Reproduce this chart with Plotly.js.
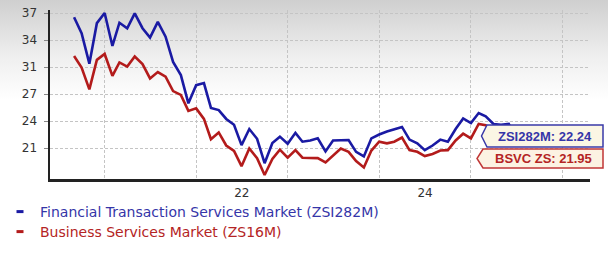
<!DOCTYPE html>
<html>
<head>
<meta charset="utf-8">
<script src="https://cdn.plot.ly/plotly-3.0.1.min.js"></script>
<style>
  html, body { margin: 0; padding: 0; }
  body { width: 608px; height: 253px; overflow: hidden;
         background: linear-gradient(to bottom, #cfcfcf 0px, #eeeeee 55px, #ffffff 100px); }
  #chart { width: 608px; height: 253px; }
</style>
</head>
<body>
<div id="chart"></div>
<script>
// ---- data ----
var months = [
  '2020-09-01','2020-10-01','2020-11-01','2020-12-01',
  '2021-01-01','2021-02-01','2021-03-01','2021-04-01','2021-05-01','2021-06-01',
  '2021-07-01','2021-08-01','2021-09-01','2021-10-01','2021-11-01','2021-12-01',
  '2022-01-01','2022-02-01','2022-03-01','2022-04-01','2022-05-01','2022-06-01',
  '2022-07-01','2022-08-01','2022-09-01','2022-10-01','2022-11-01','2022-12-01',
  '2023-01-01','2023-02-01','2023-03-01','2023-04-01','2023-05-01','2023-06-01',
  '2023-07-01','2023-08-01','2023-09-01','2023-10-01','2023-11-01','2023-12-01',
  '2024-01-01','2024-02-01','2024-03-01','2024-04-01','2024-05-01','2024-06-01',
  '2024-07-01','2024-08-01','2024-09-01','2024-10-01','2024-11-01','2024-12-01',
  '2025-01-01','2025-02-01','2025-03-01','2025-04-01','2025-05-01','2025-06-01',
  '2025-07-01'
];
var zsi282m = [
  36.5, 34.6, 31.0, 35.8,
  37.0, 33.1, 35.85, 35.2, 36.95, 35.2, 34.1, 35.95, 34.2, 31.2, 29.65, 26.3,
  28.45, 28.7, 25.75, 25.5, 24.45, 23.75, 21.35, 23.25, 22.1, 19.2, 21.6, 22.35,
  21.5, 22.8, 21.75, 21.9, 22.15, 20.6, 21.9, 21.95, 21.95, 20.55, 20.0, 22.15,
  22.6, 22.95, 23.2, 23.5, 22.0, 21.55, 20.75, 21.3, 22.0, 21.75, 23.25, 24.5,
  23.95, 25.15, 24.75, 23.85, 23.75, 23.85, 22.24
];
var zs16m = [
  31.9, 30.55, 27.95, 31.45,
  32.15, 29.55, 31.15, 30.65, 31.85, 30.95, 29.25, 30.0, 29.45, 27.75, 27.3, 25.4,
  25.7, 24.45, 22.05, 22.85, 21.3, 20.65, 18.85, 20.95, 19.8, 17.8, 19.7, 20.8,
  19.85, 20.75, 19.85, 19.8, 19.8, 19.3, 20.15, 20.95, 20.55, 19.45, 18.7, 20.7,
  21.75, 21.55, 21.75, 22.25, 20.75, 20.55, 20.05, 20.3, 20.7, 20.75, 21.9, 22.7,
  22.15, 23.85, 23.7, 23.1, 22.5, 22.3, 21.95
];
var seriesNames = ['Financial Transaction Services Market (ZSI282M)', 'Business Services Market (ZS16M)'];
var tagNames = ['ZSI282M', 'BSVC ZS'];
var yTickVals = [21, 24.2, 27.4, 30.6, 33.8, 37];
var yTickText = ['21', '24', '27', '31', '34', '37'];
var xTickVals = ['2022-07-02', '2024-07-02'];
var xTickText = ['22', '24'];

// ---- style ----
var BLUE = '#1a1aa3', RED = '#b31b1b';
var BLUE_T = '#3535a8', RED_T = '#b42424';
var W = 608, H = 253, M = {l: 50, r: 18, t: 10, b: 74, autoexpand: false};
function px(xp) { return (xp - M.l) / (W - M.l - M.r); }
function py(yp) { return (H - M.b - yp) / (H - M.t - M.b); }

var lastB = zsi282m[zsi282m.length - 1];
var lastR = zs16m[zs16m.length - 1];

var traces = [
  {x: months, y: zsi282m, type: 'scatter', mode: 'lines', showlegend: false,
   line: {color: BLUE, width: 2.6}, hoverinfo: 'skip'},
  {x: months, y: zs16m, type: 'scatter', mode: 'lines', showlegend: false,
   line: {color: RED, width: 2.6}, hoverinfo: 'skip'},
  {x: [null], y: [null], type: 'scatter', mode: 'markers', showlegend: true, legend: 'legend',
   name: '<span style="color:' + BLUE_T + '">' + seriesNames[0] + '</span>',
   marker: {symbol: 'line-ew-open', size: 5, color: BLUE, line: {color: BLUE, width: 3}}},
  {x: [null], y: [null], type: 'scatter', mode: 'markers', showlegend: true, legend: 'legend2',
   name: '<span style="color:' + RED_T + '">' + seriesNames[1] + '</span>',
   marker: {symbol: 'line-ew-open', size: 5, color: RED, line: {color: RED, width: 3}}}
];

function tagPath(x0, x1, y0, y1, tip) {
  var ym = (y0 + y1) / 2;
  return 'M ' + px(x0) + ',' + py(y0) + ' L ' + px(x1) + ',' + py(y0) + ' L ' + px(x1) + ',' + py(y1) +
         ' L ' + px(x0) + ',' + py(y1) + ' L ' + px(tip) + ',' + py(ym) + ' Z';
}

var legendFont = {size: 14, family: 'DejaVu Sans, Verdana, sans-serif'};
var layout = {
  width: W, height: H,
  margin: M,
  paper_bgcolor: 'rgba(0,0,0,0)',
  plot_bgcolor: 'rgba(0,0,0,0)',
  font: {family: 'DejaVu Sans, Verdana, sans-serif', size: 12, color: '#333'},
  showlegend: true,
  legend: {xref: 'container', yref: 'container', x: 0, xanchor: 'left', y: 1 - 196 / H, yanchor: 'top',
           bgcolor: 'rgba(0,0,0,0)', font: legendFont, itemwidth: 30},
  legend2: {xref: 'container', yref: 'container', x: 0, xanchor: 'left', y: 1 - 216 / H, yanchor: 'top',
           bgcolor: 'rgba(0,0,0,0)', font: legendFont, itemwidth: 30},
  xaxis: {
    type: 'date',
    range: ['2020-05-28', '2026-04-21'],
    tickmode: 'array', tickvals: xTickVals, ticktext: xTickText,
    showgrid: false, ticks: '', zeroline: false, ticklabelstandoff: 1,
    showline: true, linecolor: '#222', linewidth: 2.5,
    tickfont: {size: 12, color: '#333'},
    minor: {tick0: '2021-01-01', dtick: 'M12', showgrid: true, gridcolor: '#c4c4c4',
            griddash: '3px,2px', gridwidth: 1, ticks: ''}
  },
  yaxis: {
    range: [17.33, 37.36],
    tickmode: 'array', tickvals: yTickVals, ticktext: yTickText,
    showgrid: true, gridcolor: '#c4c4c4', griddash: '3px,2px', gridwidth: 1,
    ticks: 'outside', ticklen: 4, tickcolor: '#888', tickwidth: 1,
    ticklabelstandoff: 4,
    zeroline: false,
    showline: true, linecolor: '#222', linewidth: 2.5,
    tickfont: {size: 12, color: '#333'}
  },
  shapes: [
    {type: 'path', xref: 'paper', yref: 'paper', layer: 'above',
     path: tagPath(487, 603, 125, 147, 481.5), fillcolor: '#fbf6e4',
     line: {color: '#3a3aa8', width: 1.5}},
    {type: 'path', xref: 'paper', yref: 'paper', layer: 'above',
     path: tagPath(483, 603, 149, 168, 477), fillcolor: '#fcf2e2',
     line: {color: '#c03636', width: 1.5}}
  ],
  annotations: [
    {xref: 'paper', yref: 'paper', x: px(545), y: py(136), xanchor: 'center', yanchor: 'middle',
     text: '<b>' + tagNames[0] + ': ' + lastB.toFixed(2) + '</b>', showarrow: false,
     font: {family: 'Liberation Sans, Arial, sans-serif', size: 13, color: BLUE_T}},
    {xref: 'paper', yref: 'paper', x: px(543), y: py(158.5), xanchor: 'center', yanchor: 'middle',
     text: '<b>' + tagNames[1] + ': ' + lastR.toFixed(2) + '</b>', showarrow: false,
     font: {family: 'Liberation Sans, Arial, sans-serif', size: 13, color: RED_T}}
  ]
};

Plotly.newPlot('chart', traces, layout, {displayModeBar: false, staticPlot: true});
</script>
</body>
</html>
